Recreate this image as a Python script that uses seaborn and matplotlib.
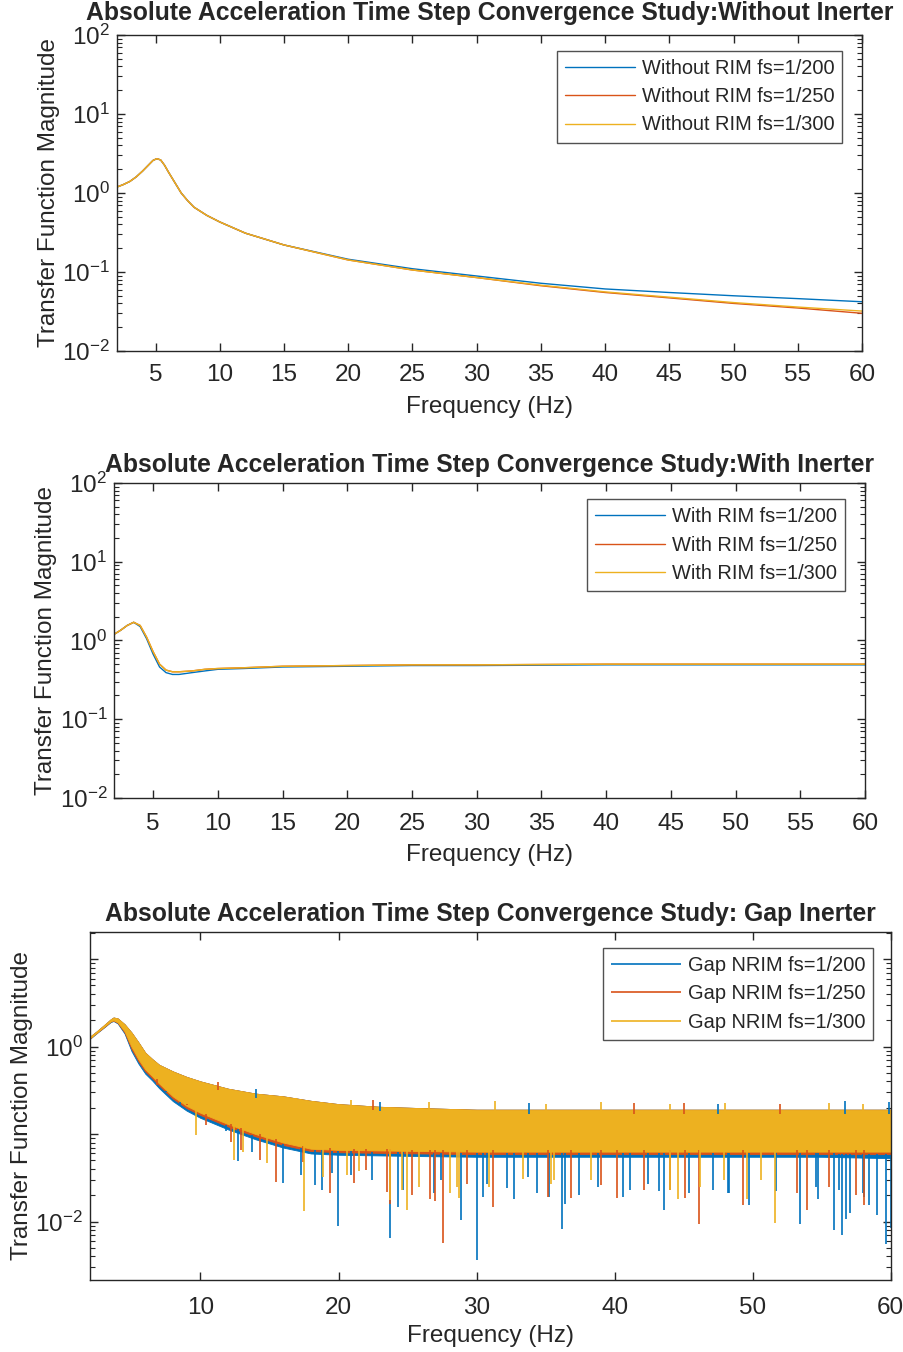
import numpy as np
import matplotlib
matplotlib.use("Agg")
import matplotlib.pyplot as plt
import matplotlib.ticker as mticker
import seaborn as sns

# ---------------- data ----------------
# Panel 1: without inerter
f1 = [2, 2.5, 3, 3.5, 4, 4.5, 4.8, 5.1, 5.4, 5.7, 6, 6.5, 7, 7.5, 8, 9, 10, 12, 15, 20,
      25, 30, 35, 40, 45, 50, 55, 60]
wo_200 = [1.19, 1.28, 1.40, 1.60, 1.90, 2.30, 2.58, 2.72, 2.62, 2.25, 1.85, 1.36, 1.00,
          0.80, 0.66, 0.52, 0.43, 0.31, 0.22, 0.145, 0.110, 0.089, 0.072, 0.061, 0.055,
          0.050, 0.046, 0.042]
wo_250 = [1.19, 1.28, 1.40, 1.60, 1.90, 2.30, 2.58, 2.72, 2.62, 2.25, 1.85, 1.36, 1.00,
          0.80, 0.66, 0.52, 0.43, 0.31, 0.22, 0.142, 0.106, 0.085, 0.067, 0.055, 0.047,
          0.040, 0.035, 0.030]
wo_300 = [1.19, 1.28, 1.40, 1.60, 1.90, 2.30, 2.58, 2.72, 2.62, 2.25, 1.85, 1.36, 1.00,
          0.80, 0.66, 0.52, 0.43, 0.31, 0.22, 0.142, 0.106, 0.085, 0.068, 0.056, 0.048,
          0.041, 0.036, 0.032]

# Panel 2: with inerter
f2 = [2, 2.5, 3, 3.5, 4, 4.5, 5, 5.5, 6, 6.5, 7, 8, 9, 10, 12, 15, 20, 25, 30, 40, 50, 60]
wi_200 = [1.20, 1.35, 1.55, 1.70, 1.50, 1.05, 0.67, 0.46, 0.39, 0.37, 0.37, 0.39, 0.41,
          0.43, 0.44, 0.46, 0.47, 0.48, 0.48, 0.49, 0.49, 0.49]
wi_250 = [1.20, 1.35, 1.55, 1.70, 1.55, 1.10, 0.72, 0.50, 0.42, 0.40, 0.40, 0.41, 0.43,
          0.44, 0.45, 0.47, 0.48, 0.49, 0.49, 0.50, 0.50, 0.50]
wi_300 = [1.20, 1.35, 1.55, 1.70, 1.55, 1.10, 0.72, 0.50, 0.42, 0.40, 0.40, 0.41, 0.43,
          0.44, 0.45, 0.47, 0.48, 0.49, 0.49, 0.50, 0.50, 0.50]

# Panel 3: gap inerter (noisy band read as envelopes + individual spikes)
gap_f = [2, 2.5, 3, 3.5, 3.7, 4, 4.5, 5, 5.5, 6, 6.5, 7, 8, 9, 10, 12, 14, 16, 18, 20,
         23, 26, 30, 35, 40, 45, 50, 55, 60]
gap_upper = [1.30, 1.50, 1.75, 2.05, 2.15, 2.10, 1.80, 1.45, 1.12, 0.85, 0.72, 0.62,
             0.52, 0.45, 0.40, 0.33, 0.29, 0.27, 0.24, 0.22, 0.205, 0.198, 0.19, 0.19,
             0.19, 0.19, 0.19, 0.19, 0.19]
gap_low_300 = [1.25, 1.45, 1.68, 1.95, 2.00, 1.90, 1.50, 1.00, 0.72, 0.55, 0.46, 0.38,
               0.27, 0.21, 0.175, 0.13, 0.10, 0.08, 0.068, 0.066, 0.065, 0.064, 0.063,
               0.063, 0.063, 0.063, 0.063, 0.063, 0.063]
gap_low_250 = [1.24, 1.44, 1.66, 1.93, 1.98, 1.87, 1.45, 0.94, 0.68, 0.52, 0.435, 0.36,
               0.255, 0.198, 0.165, 0.122, 0.094, 0.075, 0.064, 0.062, 0.061, 0.060,
               0.059, 0.059, 0.059, 0.059, 0.059, 0.059, 0.059]
gap_low_200 = [1.23, 1.43, 1.65, 1.91, 1.96, 1.84, 1.41, 0.89, 0.64, 0.49, 0.41, 0.335,
               0.238, 0.185, 0.153, 0.113, 0.087, 0.070, 0.060, 0.058, 0.057, 0.056,
               0.055, 0.055, 0.055, 0.055, 0.055, 0.055, 0.053]

spk200_f = [6.67, 7.5, 8.5, 11.87, 12.7, 13.74, 16.0, 17.3, 18.3, 18.8, 19.5, 19.97,
            20.9, 22.4, 23.7, 24.3, 24.69, 26.9, 27.4, 28.85, 30.06, 30.5, 30.74, 32.19,
            32.72, 33.76, 34.41, 35.26, 36.18, 36.4, 37.39, 38.77, 40.58, 41.14, 42.4,
            43.24, 43.6, 45.37, 47.11, 48.2, 48.32, 49.77, 51.66, 53.45, 54.61, 54.7,
            55.89, 56.26, 56.47, 56.74, 57.08, 58.0, 58.1, 58.43, 59.0, 59.69, 60.0]
spk200_v = [0.417, 0.306, 0.216, 0.107, 0.049, 0.063, 0.0275, 0.034, 0.0263, 0.023,
            0.0357, 0.009, 0.034, 0.030, 0.0065, 0.0148, 0.023, 0.021, 0.030, 0.0103,
            0.0036, 0.019, 0.027, 0.024, 0.018, 0.032, 0.021, 0.019, 0.0082, 0.016,
            0.020, 0.025, 0.019, 0.023, 0.027, 0.0225, 0.0137, 0.021, 0.023, 0.021,
            0.021, 0.0153, 0.0225, 0.0093, 0.025, 0.018, 0.0081, 0.023, 0.0071, 0.0107,
            0.0124, 0.021, 0.019, 0.0153, 0.0119, 0.0056, 0.0085]
spk250_f = [6.83, 9.0, 10.4, 12.2, 12.9, 14.3, 15.5, 17.4, 19.4, 21.1, 22.0, 23.5, 23.7,
            25.34, 26.62, 26.99, 27.59, 29.33, 31.22, 35.14, 36.83, 39.01, 40.17, 42.11,
            44.0, 45.1, 46.1, 49.3, 53.2, 53.9, 55.5, 57.5, 58.1]
spk250_v = [0.365, 0.216, 0.127, 0.081, 0.066, 0.0507, 0.028, 0.048, 0.021, 0.0275,
            0.039, 0.022, 0.0159, 0.020, 0.018, 0.0173, 0.0057, 0.027, 0.0146, 0.019,
            0.0185, 0.026, 0.0185, 0.023, 0.023, 0.0185, 0.0093, 0.0153, 0.021, 0.0136,
            0.025, 0.020, 0.0155]
spk300_f = [9.7, 11.5, 12.45, 13.1, 14.8, 17.5, 18.9, 20.6, 21.5, 23.7, 24.62, 24.93,
            25.83, 28.08, 28.6, 28.73, 30.9, 33.33, 35.4, 35.62, 38.28, 44.0, 44.6, 46.2,
            47.9, 49.6, 50.6, 51.6]
spk300_v = [0.098, 0.14, 0.0507, 0.063, 0.047, 0.0131, 0.0327, 0.034, 0.038, 0.0175,
            0.023, 0.0134, 0.025, 0.021, 0.025, 0.0185, 0.025, 0.031, 0.027, 0.030,
            0.030, 0.023, 0.0183, 0.025, 0.030, 0.0183, 0.030, 0.0096]
up200_f = [14.0, 23.0, 33.8, 47.5, 56.7, 59.9]
up200_v = [0.33, 0.235, 0.225, 0.222, 0.24, 0.235]
up250_f = [11.3, 22.5, 41.4, 45.0, 52.0]
up250_v = [0.39, 0.245, 0.228, 0.228, 0.222]
up300_f = [16.9, 20.9, 26.55, 31.3, 35.0, 39.0, 44.0, 48.0, 55.5, 58.0]
up300_v = [0.256, 0.246, 0.235, 0.238, 0.222, 0.23, 0.222, 0.225, 0.225, 0.222]

x_ticks_12 = [5, 10, 15, 20, 25, 30, 35, 40, 45, 50, 55, 60]
x_ticks_3 = [10, 20, 30, 40, 50, 60]
titles = ["Absolute Acceleration Time Step Convergence Study:Without Inerter",
          "Absolute Acceleration Time Step Convergence Study:With Inerter",
          "Absolute Acceleration Time Step Convergence Study: Gap Inerter"]
labels1 = ["Without RIM fs=1/200", "Without RIM fs=1/250", "Without RIM fs=1/300"]
labels2 = ["With RIM fs=1/200", "With RIM fs=1/250", "With RIM fs=1/300"]
labels3 = ["Gap NRIM fs=1/200", "Gap NRIM fs=1/250", "Gap NRIM fs=1/300"]
colors = ["#0072BD", "#D95319", "#EDB120"]

# ---------------- style ----------------
sns.set_style("ticks")
plt.rcParams["font.family"] = ["Liberation Sans", "DejaVu Sans"]
plt.rcParams["mathtext.default"] = "regular"
AX = "#262626"
FS = 17.5
LFS = 14.4
TFS = 17.8

fig = plt.figure(figsize=(9.04, 13.52), dpi=100)
ax1 = fig.add_axes([0.1294, 0.7404, 0.8241, 0.2337])
ax2 = fig.add_axes([0.1264, 0.4098, 0.8305, 0.2330])
ax3 = fig.add_axes([0.0996, 0.0533, 0.8857, 0.2576])


def style(ax, xt, xpad, lpad):
    ax.set_yscale("log")
    ax.set_xlim(2, 60)
    ax.set_xticks(xt)
    ax.set_xticklabels([str(v) for v in xt])
    ax.yaxis.set_minor_locator(mticker.LogLocator(base=10, subs=np.arange(2, 10)))
    ax.yaxis.set_minor_formatter(mticker.NullFormatter())
    for s in ax.spines.values():
        s.set_color(AX)
        s.set_linewidth(1.0)
        s.set_visible(True)
    ax.tick_params(which="both", direction="in", top=True, right=True, colors=AX,
                   labelsize=FS, labelcolor=AX)
    ax.tick_params(which="major", length=6, width=1.0)
    ax.tick_params(axis="x", which="major", pad=xpad)
    ax.tick_params(axis="y", which="major", pad=5)
    ax.tick_params(which="minor", length=3.5, width=0.8)
    ax.set_xlabel("Frequency (Hz)", fontsize=FS, color=AX, labelpad=lpad)
    ax.set_ylabel("Transfer Function Magnitude", fontsize=FS, color=AX, labelpad=2)


def legend(ax, anchor):
    leg = ax.legend(loc="upper right", bbox_to_anchor=anchor,
                    bbox_transform=fig.transFigure, borderaxespad=0, fontsize=LFS,
                    frameon=True, fancybox=False, handlelength=3.5,
                    handletextpad=0.35, labelspacing=0.47, borderpad=0.4)
    leg.get_frame().set_edgecolor(AX)
    leg.get_frame().set_linewidth(1.0)


# Panel 1
for vals, c, lab in zip([wo_200, wo_250, wo_300], colors, labels1):
    sns.lineplot(x=f1, y=vals, ax=ax1, color=c, linewidth=1.0, label=lab, sort=False)
style(ax1, x_ticks_12, 9.2, 7.3)
ax1.set_ylim(1e-2, 1e2)
ax1.yaxis.set_major_locator(mticker.LogLocator(base=10, numticks=10))
ax1.set_title(titles[0], fontsize=TFS, fontweight="bold", pad=10.5)
legend(ax1, (0.9318, 0.9625))

# Panel 2
for vals, c, lab in zip([wi_200, wi_250, wi_300], colors, labels2):
    sns.lineplot(x=f2, y=vals, ax=ax2, color=c, linewidth=1.0, label=lab, sort=False)
style(ax2, x_ticks_12, 10.6, 6.6)
ax2.set_ylim(1e-2, 1e2)
ax2.yaxis.set_major_locator(mticker.LogLocator(base=10, numticks=10))
ax2.set_title(titles[1], fontsize=TFS, fontweight="bold", pad=8)
legend(ax2, (0.9351, 0.6307))

# Panel 3
lows = [gap_low_200, gap_low_250, gap_low_300]
spikes = [(spk200_f, spk200_v), (spk250_f, spk250_v), (spk300_f, spk300_v)]
ups = [(up200_f, up200_v), (up250_f, up250_v), (up300_f, up300_v)]
lgf = np.log(gap_f)
for low, (sf, sv), (uf, uv), c, lab in zip(lows, spikes, ups, colors, labels3):
    ax3.fill_between(gap_f, low, gap_upper, color=c, linewidth=0.6, edgecolor=c)
    top = np.exp(np.interp(np.log(sf), lgf, np.log(low))) * 1.1
    ax3.vlines(sf, sv, top, color=c, linewidth=1.2, label=lab)
    bot = np.exp(np.interp(np.log(uf), lgf, np.log(gap_upper))) * 0.9
    ax3.vlines(uf, bot, uv, color=c, linewidth=1.2)
style(ax3, x_ticks_3, 12.0, 4.5)
ax3.set_ylim(0.00215, 20.6)
ax3.yaxis.set_major_locator(mticker.FixedLocator([1e-2, 1e-1, 1e0, 1e1]))
ax3.yaxis.set_major_formatter(mticker.FixedFormatter(
    [r"$10^{-2}$", "", r"$10^{0}$", ""]))
ax3.set_title(titles[2], fontsize=TFS, fontweight="bold", pad=8)
legend(ax3, (0.9660, 0.2990))

fig.savefig("out.png", dpi=100)
